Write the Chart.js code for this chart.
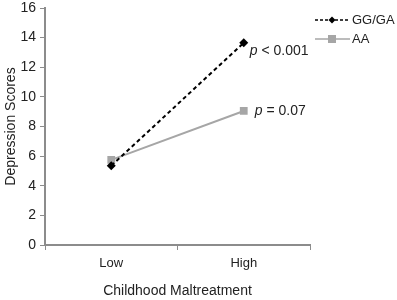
<!DOCTYPE html>
<html>
<head>
<meta charset="utf-8">
<script src="https://cdn.jsdelivr.net/npm/chart.js@4"></script>
<style>
  html, body { margin: 0; padding: 0; background: #fff; }
  #wrap { width: 397px; height: 300px; }
</style>
</head>
<body>
<div id="wrap"><canvas id="chart"></canvas></div>
<script>
// data
const categories = ['Low', 'High'];
const ggGaValues = [5.35, 13.65];
const aaValues = [5.75, 9.05];
const yTicks = [0, 2, 4, 6, 8, 10, 12, 14, 16];
const pLabels = ['p < 0.001', 'p = 0.07'];

const axisGray = '#8c8c8c';
const aaGray = '#a6a6a6';
const font = 'Liberation Sans, Arial, sans-serif';

// legend + p-value notes drawn by hand
const notesPlugin = {
    id: 'notes',
    afterDatasetsDraw(chart) {
        const ctx = chart.ctx;
        const x = chart.scales.x, y = chart.scales.y;
        ctx.save();
        ctx.fillStyle = '#222';
        ctx.textBaseline = 'middle';

        function note(text, px, py) {
            const parts = text.split(' ');
            ctx.font = 'italic 14px ' + font;
            ctx.fillText(parts[0], px, py);
            const w = ctx.measureText(parts[0] + ' ').width;
            ctx.font = '14px ' + font;
            ctx.fillText(parts.slice(1).join(' '), px + w, py);
        }
        const hx = x.getPixelForValue(1);
        note(pLabels[0], hx + 6, y.getPixelForValue(ggGaValues[1]) + 8);
        note(pLabels[1], hx + 11, y.getPixelForValue(aaValues[1]));

        // legend
        const lx = 315, ly1 = 20, ly2 = 39;
        ctx.lineWidth = 1.5;
        ctx.strokeStyle = '#000';
        ctx.setLineDash([3, 2]);
        ctx.beginPath(); ctx.moveTo(lx, ly1); ctx.lineTo(lx + 35, ly1); ctx.stroke();
        ctx.setLineDash([]);
        ctx.fillStyle = '#000';
        ctx.beginPath();
        ctx.moveTo(lx + 17, ly1 - 3.5); ctx.lineTo(lx + 20.5, ly1);
        ctx.lineTo(lx + 17, ly1 + 3.5); ctx.lineTo(lx + 13.5, ly1); ctx.closePath(); ctx.fill();

        ctx.strokeStyle = aaGray;
        ctx.beginPath(); ctx.moveTo(lx, ly2); ctx.lineTo(lx + 35, ly2); ctx.stroke();
        ctx.fillStyle = aaGray;
        ctx.fillRect(lx + 13, ly2 - 4, 8, 8);

        ctx.fillStyle = '#222';
        ctx.font = '13px ' + font;
        ctx.fillText('GG/GA', lx + 37, ly1);
        ctx.fillText('AA', lx + 37, ly2);
        ctx.restore();
    }
};

new Chart(document.getElementById('chart'), {
    type: 'line',
    data: {
        labels: categories,
        datasets: [{
            label: 'GG/GA',
            data: ggGaValues,
            borderColor: '#000',
            backgroundColor: '#000',
            borderWidth: 2,
            borderDash: [4, 3],
            pointStyle: 'rectRot',
            pointRadius: 4.5,
            pointBorderWidth: 0
        }, {
            label: 'AA',
            data: aaValues,
            borderColor: aaGray,
            backgroundColor: aaGray,
            borderWidth: 2,
            pointStyle: 'rect',
            pointRadius: 5.5,
            pointBorderWidth: 0
        }]
    },
    options: {
        responsive: true,
        maintainAspectRatio: false,
        animation: false,
        layout: { padding: { top: 8, right: 87, left: 0, bottom: 0 } },
        plugins: { legend: { display: false }, tooltip: { enabled: false } },
        scales: {
            x: {
                offset: true,
                grid: { offset: true, drawOnChartArea: false, color: axisGray, tickLength: 5 },
                border: { color: axisGray, width: 2 },
                ticks: { color: '#222', font: { family: font, size: 13 }, padding: 6 },
                title: { display: true, text: 'Childhood Maltreatment', color: '#222',
                         font: { family: font, size: 14 }, padding: { top: 20, bottom: 0 } },
                afterFit(scale) { scale.height = 55; }
            },
            y: {
                min: 0, max: 16,
                afterBuildTicks(scale) { scale.ticks = yTicks.map(v => ({ value: v })); },
                grid: { drawOnChartArea: false, color: axisGray, tickLength: 5 },
                border: { color: axisGray, width: 2 },
                ticks: { color: '#222', font: { family: font, size: 14 }, padding: 4 },
                title: { display: true, text: 'Depression Scores', color: '#222',
                         font: { family: font, size: 14 }, padding: { top: 3, bottom: 0 } },
                afterFit(scale) {
                    scale.width = 45;
                    scale.paddingTop = 0;
                    scale.paddingBottom = 0;
                }
            }
        }
    },
    plugins: [notesPlugin]
});
</script>
</body>
</html>
